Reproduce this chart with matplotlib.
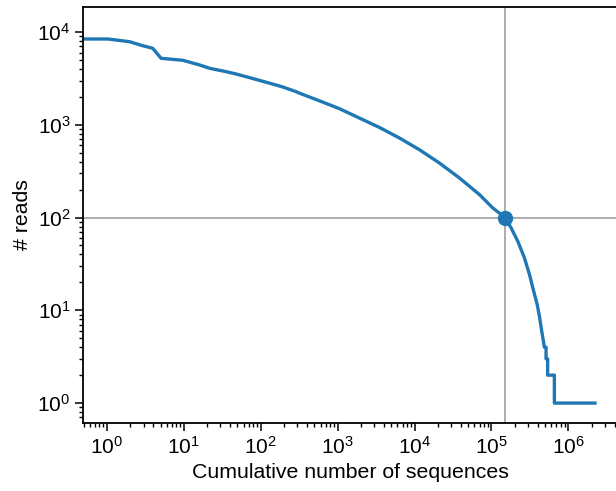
import numpy as np
import matplotlib
matplotlib.use("Agg")
from matplotlib import pyplot as plt
from matplotlib.ticker import LogLocator, NullFormatter

# cumulative number of sequences vs reads
cum_seqs = [0.488, 1.03, 1.97, 2.93, 3.95, 5.07, 9.7, 16, 21.6, 35.4, 47.8,
            71, 117, 193, 287, 321, 584, 1060, 1930, 3510, 6380, 11600,
            21100, 38400, 69800, 104000, 150000, 180000, 220000, 268000,
            312000, 354000, 393000, 424000, 450000, 473000, 488000, 513000,
            513000, 538000, 538000, 658000, 658000, 2220000]
reads = [8410, 8410, 7870, 7120, 6680, 5210, 4960, 4420, 4070, 3740, 3530,
         3230, 2880, 2560, 2280, 2190, 1810, 1490, 1180, 935, 720, 538,
         387, 267, 177, 127, 100, 77.5, 55.6, 36.9,
         24.4, 16.1, 11.6, 8.3, 6.0, 4.7, 4, 4,
         3, 3, 2, 2, 1, 1]

cut_x = 150000
cut_y = 100

plt.rcParams['font.family'] = ['Liberation Sans', 'DejaVu Sans']
plt.rcParams['font.size'] = 15

fig = plt.figure(figsize=(6.16, 4.91), dpi=100)
ax = fig.add_axes([0.1347, 0.1385, 0.8683, 0.8472])

ax.axvline(cut_x, color="#a0a0a0", lw=1.2, zorder=1)
ax.axhline(cut_y, color="#a0a0a0", lw=1.2, zorder=1)
ax.plot(cum_seqs, reads, color="#1f77b4", lw=2.4, zorder=2)
ax.plot([cut_x], [cut_y], "o", color="#1f77b4", ms=10, zorder=3)

ax.set_xscale("log")
ax.set_yscale("log")
ax.set_xlim(0.49, 4.4e6)
ax.set_ylim(0.61, 1.86e4)
ax.set_xticks([1, 10, 100, 1e3, 1e4, 1e5, 1e6])
ax.set_yticks([1, 10, 100, 1e3, 1e4])
ax.xaxis.set_minor_locator(LogLocator(base=10, subs=np.arange(2, 10), numticks=20))
ax.yaxis.set_minor_locator(LogLocator(base=10, subs=np.arange(2, 10), numticks=20))
ax.xaxis.set_minor_formatter(NullFormatter())
ax.yaxis.set_minor_formatter(NullFormatter())

ax.set_xlabel("Cumulative number of sequences", fontsize=15.3)
ax.set_ylabel("# reads", fontsize=15.3)

for s in ax.spines.values():
    s.set_linewidth(1.3)
ax.tick_params(which="major", length=5.5, width=1.1, direction="out")
ax.tick_params(which="minor", length=3, width=1.0, direction="out")

plt.savefig("out.png", dpi=100)
